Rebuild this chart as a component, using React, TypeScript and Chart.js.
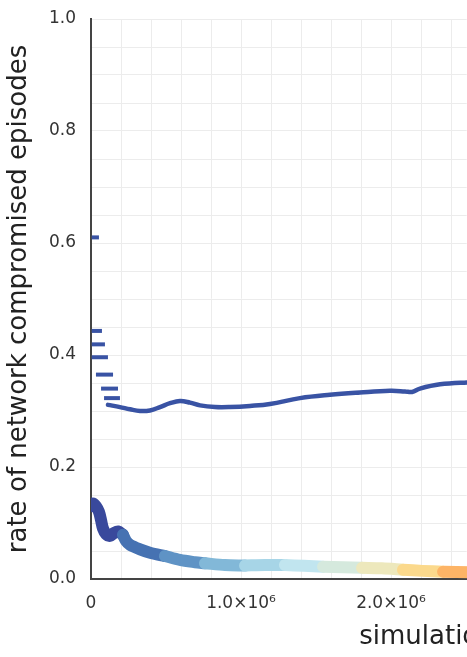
import { useEffect, useRef } from "react";
import { Chart, registerables } from "chart.js";

Chart.register(...registerables);

const xTitle = "simulation steps";
const yTitle = "rate of network compromised episodes";

// early discrete plateaus of the upper series (steps from, steps to, rate)
const dashStart = [5000, 5000, 5000, 5000, 33000, 67000, 87000];
const dashEnd = [53000, 73000, 93000, 113000, 147000, 180000, 193000];
const dashRate = [0.61, 0.443, 0.419, 0.396, 0.365, 0.34, 0.323];

// upper series (continuous part)
const upperSteps = [
  113000, 193000, 260000, 327000, 393000, 460000, 527000, 593000, 660000, 727000,
  827000, 927000, 1060000, 1193000, 1393000, 1593000, 1793000, 1993000, 2093000,
  2140000, 2193000, 2327000, 2507000, 2727000,
];
const upperRate = [
  0.311, 0.307, 0.303, 0.3, 0.301, 0.307, 0.314, 0.318, 0.315, 0.31,
  0.307, 0.307, 0.309, 0.3125, 0.323, 0.329, 0.333, 0.336, 0.335,
  0.334, 0.34, 0.3476, 0.351, 0.353,
];

// lower series
const lowerSteps = [
  0, 13000, 33000, 53000, 67000, 80000, 100000, 127000, 153000, 180000, 213000,
  233000, 260000, 327000, 393000, 493000, 593000, 693000, 760000, 893000, 1027000,
  1160000, 1293000, 1420000, 1547000, 1680000, 1807000, 1940000, 2080000, 2210000,
  2347000, 2527000, 2800000,
];
const lowerRate = [
  0.13, 0.135, 0.13, 0.12, 0.105, 0.09, 0.08, 0.077, 0.082, 0.085, 0.079,
  0.068, 0.061, 0.053, 0.047, 0.041, 0.034, 0.03, 0.028, 0.025, 0.024,
  0.025, 0.025, 0.0235, 0.022, 0.021, 0.02, 0.019, 0.0165, 0.0145,
  0.013, 0.012, 0.011,
];

// colour bands of the lower series along the step axis
const bandEdges = [0, 213000, 493000, 760000, 1027000, 1293000, 1547000, 1807000, 2080000, 2347000, 5000000];
const bandColors = [
  "#39499c", "#4672b2", "#5f93c5", "#82b8d8", "#a7d5e7",
  "#c1e5ef", "#d5e9dd", "#ede8bc", "#fbd98c", "#fdb466",
];

const xMax = 5000000;
const FONT = "'DejaVu Sans', sans-serif";

export default function App() {
  const ref = useRef<HTMLCanvasElement | null>(null);

  useEffect(() => {
    if (!ref.current) return;
    const datasets: any[] = [];

    for (let i = 0; i < bandColors.length; i++) {
      const pts = lowerSteps
        .map((x, k) => ({ x, y: lowerRate[k] }))
        .filter((p) => p.x >= bandEdges[i] && p.x <= bandEdges[i + 1]);
      datasets.push({
        data: pts,
        borderColor: bandColors[i],
        backgroundColor: bandColors[i],
        borderWidth: 12,
        borderCapStyle: "round",
        borderJoinStyle: "round",
        pointRadius: 0,
        tension: 0.3,
        order: 100 - i,
      });
    }

    for (let i = 0; i < dashRate.length; i++) {
      datasets.push({
        data: [
          { x: dashStart[i], y: dashRate[i] },
          { x: dashEnd[i], y: dashRate[i] },
        ],
        borderColor: "#3953a4",
        borderWidth: 4,
        borderCapStyle: "butt",
        pointRadius: 0,
        order: 1,
      });
    }

    datasets.push({
      data: upperSteps.map((x, k) => ({ x, y: upperRate[k] })),
      borderColor: "#3953a4",
      borderWidth: 4.5,
      borderCapStyle: "round",
      borderJoinStyle: "round",
      pointRadius: 0,
      tension: 0.4,
      order: 0,
    });

    const chart = new Chart(ref.current, {
      type: "line",
      data: { datasets },
      options: {
        animation: false,
        responsive: false,
        devicePixelRatio: 1,
        layout: { padding: { top: 19, right: 59, bottom: 0, left: 0 } },
        plugins: { legend: { display: false }, tooltip: { enabled: false } },
        scales: {
          x: {
            type: "linear",
            min: 0,
            max: xMax,
            afterFit: (s: any) => {
              s.height = 78;
            },
            border: { display: true, color: "#444", width: 2 },
            grid: { color: "#ececec", lineWidth: 1, drawTicks: false },
            ticks: {
              stepSize: 200000,
              autoSkip: false,
              maxRotation: 0,
              padding: 14,
              color: "#333",
              font: { family: FONT, size: 17 },
              callback: (v: any) => {
                const n = Number(v) / 1e6;
                if (Math.abs(n - Math.round(n)) > 1e-6) return "";
                if (Math.round(n) === 0) return "0";
                return n.toFixed(1) + "×10⁶";
              },
            },
            title: {
              display: true,
              text: xTitle,
              color: "#222",
              font: { family: FONT, size: 26 },
              padding: { top: 0, bottom: 4 },
            },
          },
          y: {
            type: "linear",
            min: 0,
            max: 1,
            afterFit: (s: any) => {
              s.width = 91;
              s.paddingTop = 0;
              s.paddingBottom = 0;
            },
            border: { display: true, color: "#444", width: 2 },
            grid: { color: "#ececec", lineWidth: 1, drawTicks: false },
            ticks: {
              stepSize: 0.05,
              autoSkip: false,
              padding: 15,
              color: "#333",
              font: { family: FONT, size: 17 },
              callback: (v: any) => {
                const n = Number(v) / 0.2;
                if (Math.abs(n - Math.round(n)) > 1e-6) return "";
                return (Math.round(n) * 0.2).toFixed(1);
              },
            },
            title: {
              display: true,
              text: yTitle,
              color: "#222",
              font: { family: FONT, size: 26 },
              padding: { top: 4, bottom: 0 },
            },
          },
        },
      },
    });
    return () => chart.destroy();
  }, []);

  return (
    <div
      style={{
        position: "absolute",
        left: 0,
        top: 0,
        width: 467,
        height: 657,
        overflow: "hidden",
        background: "#fff",
      }}
    >
      <canvas ref={ref} width={900} height={657} style={{ display: "block" }} />
    </div>
  );
}
